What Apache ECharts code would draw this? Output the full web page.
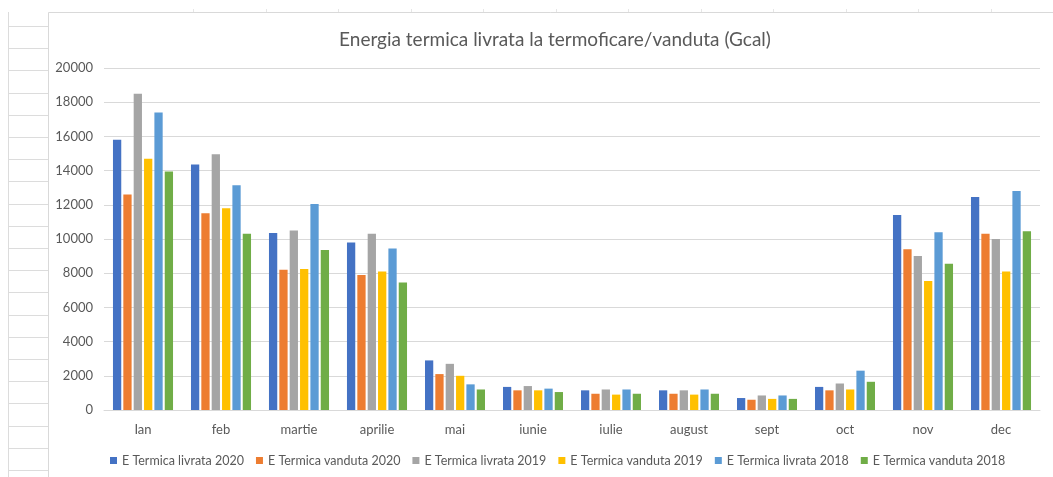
<!DOCTYPE html>
<html>
<head>
<meta charset="utf-8">
<script src="https://cdn.jsdelivr.net/npm/echarts@6/dist/echarts.min.js"></script>
<style>
  html, body { margin: 0; padding: 0; background: #ffffff; }
  #chart { width: 1053px; height: 477px; }
</style>
</head>
<body>
<div id="chart"></div>
<script>
// Months (categories)
const months = ['Ian', 'feb', 'martie', 'aprilie', 'mai', 'iunie', 'iulie', 'august', 'sept', 'oct', 'nov', 'dec'];

// Thermal energy, Gcal per month
const livrata2020 = [15800, 14350, 10350, 9800, 2900, 1350, 1150, 1150, 700, 1350, 11400, 12450];
const vanduta2020 = [12600, 11500, 8200, 7900, 2100, 1150, 950, 950, 600, 1150, 9400, 10300];
const livrata2019 = [18500, 14950, 10500, 10300, 2700, 1400, 1200, 1150, 850, 1550, 9000, 10000];
const vanduta2019 = [14700, 11800, 8250, 8100, 2000, 1150, 900, 900, 650, 1200, 7550, 8100];
const livrata2018 = [17400, 13150, 12050, 9450, 1500, 1250, 1200, 1200, 850, 2300, 10400, 12800];
const vanduta2018 = [13950, 10300, 9350, 7450, 1200, 1050, 950, 950, 650, 1650, 8550, 10450];

const seriesNames = [
  'E Termica livrata 2020', 'E Termica vanduta 2020',
  'E Termica livrata 2019', 'E Termica vanduta 2019',
  'E Termica livrata 2018', 'E Termica vanduta 2018'
];
const seriesData = [livrata2020, vanduta2020, livrata2019, vanduta2019, livrata2018, vanduta2018];
const palette = ['#4472C4', '#ED7D31', '#A5A5A5', '#FFC000', '#5B9BD5', '#70AD47'];

const FONT = 'Lato, "Open Sans", sans-serif';
const TEXT = '#595959';
const LINE = '#d9d9d9';

// Worksheet cell lines around the chart object
const sheet = [];
sheet.push({ type: 'line', shape: { x1: 8.5, y1: 12, x2: 8.5, y2: 477 }, style: { stroke: '#dcdcdc', lineWidth: 1 }, silent: true });
for (let y = 26; y < 477; y += 22.2) {
  sheet.push({ type: 'line', shape: { x1: 8, y1: Math.round(y) + 0.5, x2: 48, y2: Math.round(y) + 0.5 }, style: { stroke: '#dcdcdc', lineWidth: 1 }, silent: true });
}
for (let x = 48 + 72.5 * 2; x < 1053; x += 72.5) {
  sheet.push({ type: 'line', shape: { x1: Math.round(x) + 0.5, y1: 9, x2: Math.round(x) + 0.5, y2: 12 }, style: { stroke: '#e6e6e6', lineWidth: 1 }, silent: true });
}
// Chart object border
sheet.push({ type: 'polyline', shape: { points: [[48.5, 477], [48.5, 12.5], [1053, 12.5]] }, style: { stroke: '#d9d9d9', lineWidth: 1, fill: null }, silent: true });

// Chart title
sheet.push({
  type: 'text', x: 555, y: 40, silent: true,
  style: {
    text: 'Energia termica livrata la termoficare/vanduta (Gcal)',
    font: '19px ' + FONT, fill: TEXT, align: 'center', verticalAlign: 'middle'
  }
});

const chart = echarts.init(document.getElementById('chart'), null, { renderer: 'canvas' });
chart.setOption({
  backgroundColor: '#ffffff',
  animation: false,
  color: palette,
  graphic: sheet,
  legend: {
    bottom: 5, left: 105,
    icon: 'rect', itemWidth: 7, itemHeight: 7, itemGap: 12,
    textStyle: { fontFamily: FONT, fontSize: 12.5, color: TEXT },
    data: seriesNames
  },
  grid: { left: 104, right: 13, top: 68, bottom: 67, containLabel: false },
  xAxis: {
    type: 'category', data: months,
    axisLine: { lineStyle: { color: LINE } },
    axisTick: { show: false },
    axisLabel: { fontFamily: FONT, fontSize: 13, color: TEXT, margin: 13 }
  },
  yAxis: {
    type: 'value', min: 0, max: 20000, interval: 2000,
    axisLine: { show: false }, axisTick: { show: false },
    splitLine: { lineStyle: { color: LINE } },
    axisLabel: { fontFamily: FONT, fontSize: 13, color: TEXT, margin: 11, formatter: v => String(v) }
  },
  series: seriesNames.map((name, i) => ({
    name, type: 'bar', data: seriesData[i],
    barGap: '25%', barCategoryGap: '23%'
  }))
});
</script>
</body>
</html>
